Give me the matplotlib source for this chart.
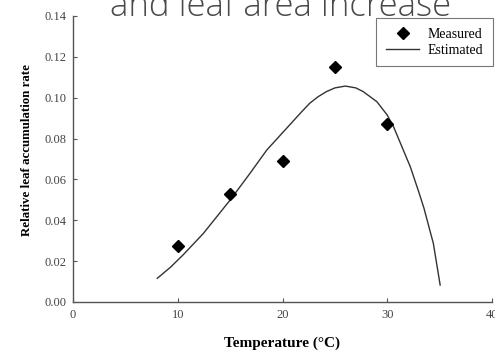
import matplotlib
matplotlib.use("Agg")
import matplotlib.pyplot as plt

# Measured data
meas_temp = [10, 15, 20, 25, 30]
meas_rate = [0.0274, 0.0527, 0.0692, 0.1152, 0.0871]

# Estimated curve
est_temp = [8.05, 9.3, 10.5, 12.45, 15.0, 16.9, 18.5, 20.1, 21.7, 22.6, 23.4, 24.2,
            25.0, 26.0, 27.0, 27.7, 29.0, 30.0, 30.6, 31.4, 32.2, 33.0, 33.5, 34.4, 35.05]
est_rate = [0.0116, 0.017, 0.023, 0.0336, 0.0499, 0.063, 0.0744, 0.0834, 0.0924,
            0.0973, 0.1005, 0.1030, 0.1048, 0.1057, 0.1048, 0.1030, 0.0981, 0.0915,
            0.0858, 0.076, 0.0662, 0.054, 0.046, 0.0287, 0.0083]

xticks = [0, 10, 20, 30, 40]
yticks = [0.00, 0.02, 0.04, 0.06, 0.08, 0.10, 0.12, 0.14]
ytick_labels = ["0.00", "0.02", "0.04", "0.06", "0.08", "0.10", "0.12", "0.14"]

W, H = 495, 351
fig = plt.figure(figsize=(W / 100, H / 100), dpi=100)
ax = fig.add_axes([73 / W, 1 - 302 / H, (492 - 73) / W, (302 - 16) / H])

serif = ["Liberation Serif", "DejaVu Serif"]
grey = "#555555"

ax.plot(est_temp, est_rate, color="#333333", lw=1.0, label="Estimated", zorder=2,
        solid_joinstyle="round")
ax.plot(meas_temp, meas_rate, linestyle="none", marker="D", ms=5.8, color="black",
        label="Measured", zorder=3)

ax.set_xlim(0, 40)
ax.set_ylim(0, 0.14)
ax.set_xticks(xticks)
ax.set_xticklabels([str(t) for t in xticks], fontfamily=serif, fontsize=9, color="#444444")
ax.set_yticks(yticks)
ax.set_yticklabels(ytick_labels, fontfamily=serif, fontsize=9, color="#444444")
ax.tick_params(direction="in", length=3, width=0.8, color=grey)
ax.tick_params(axis="y", pad=5)
ax.tick_params(axis="x", pad=5)
for s in ["top", "right"]:
    ax.spines[s].set_visible(False)
for s in ["left", "bottom"]:
    ax.spines[s].set_color(grey)
    ax.spines[s].set_linewidth(1.0)

ax.set_xlabel("Temperature (°C)", fontfamily=serif, fontweight="bold", fontsize=11, labelpad=11)
ax.set_ylabel("Relative leaf accumulation rate", fontfamily=serif, fontweight="bold",
              fontsize=9.3)
ax.yaxis.set_label_coords(-0.095, 0.531)

handles, labels = ax.get_legend_handles_labels()
leg = ax.legend(handles[::-1], labels[::-1], loc="upper right",
                bbox_to_anchor=(493 / W, 1 - 18 / H), bbox_transform=fig.transFigure,
                prop={"family": serif, "size": 10}, fancybox=False, frameon=True,
                edgecolor=grey, handlelength=2.4, borderaxespad=0, labelspacing=0.2,
                borderpad=0.7, handletextpad=0.6)
leg.get_frame().set_linewidth(0.8)

fig.text(0.566, 1 - 16 / H, "and leaf area increase", ha="center", va="baseline",
         fontsize=25, fontfamily="Open Sans", fontweight="light", color="#4a4a4a")

fig.savefig("out.png", dpi=100)
